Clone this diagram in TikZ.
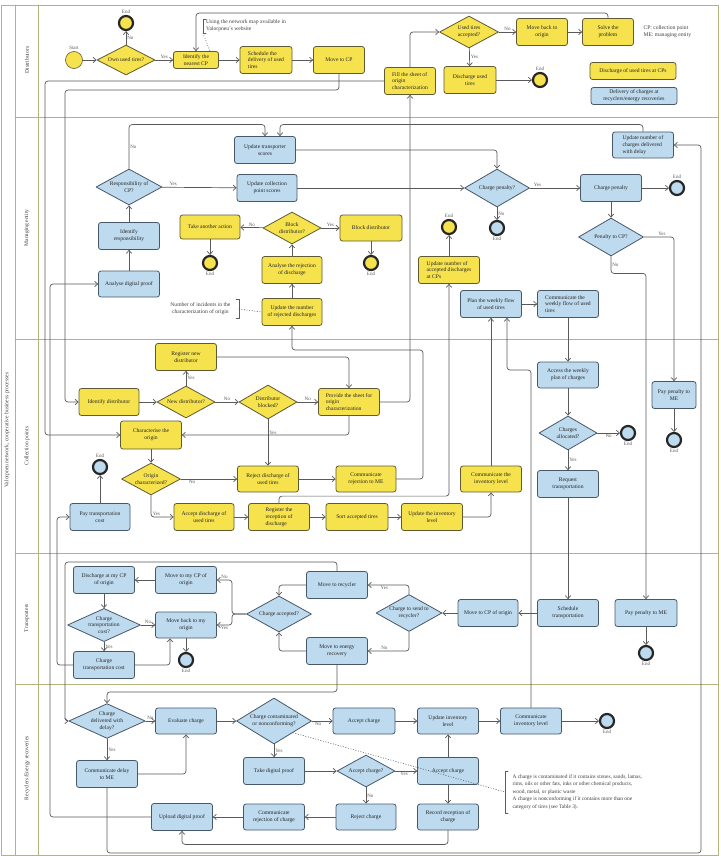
\documentclass[tikz,border=0pt]{standalone}
\usepackage{fontspec}
\setmainfont{Liberation Serif}
\usetikzlibrary{shapes.geometric,arrows.meta}
\definecolor{yfill}{RGB}{246,226,76}
\definecolor{ydraw}{RGB}{95,90,50}
\definecolor{bfill}{RGB}{190,218,238}
\definecolor{bdraw}{RGB}{70,88,105}
\definecolor{flow}{RGB}{90,90,90}
\definecolor{lanec}{RGB}{178,180,125}
\begin{document}
\begin{tikzpicture}[x=1pt,y=-1pt,line join=round,line cap=round,
  font=\fontsize{5.6}{6.8}\selectfont,>={Straight Barb[length=3pt,width=5.5pt]},
  box/.style={rectangle,rounded corners=2.5pt,line width=0.8pt,minimum width=61pt,minimum height=27pt,inner sep=1pt,align=center,text=black!85},
  ybox/.style={box,draw=ydraw,fill=yfill},
  bbox/.style={box,draw=bdraw,fill=bfill},
  dec/.style={diamond,aspect=1.8,line width=0.8pt,inner sep=0.5pt,align=center,text=black!85},
  ydec/.style={dec,draw=ydraw,fill=yfill},
  bdec/.style={dec,draw=bdraw,fill=bfill},
  fin/.style={circle,draw=black!85,line width=2.2pt,minimum size=14pt,inner sep=0pt},
  yfin/.style={fin,fill=yfill},
  bfin/.style={fin,fill=bfill},
  tag/.style={font=\fontsize{5}{6}\selectfont,text=black!65,inner sep=1pt},
  flw/.style={->,draw=flow,line width=0.7pt,rounded corners=3pt},
  dots/.style={dotted,draw=flow,line width=0.6pt},
  brk/.style={draw=flow,line width=0.5pt}]
\fill[white] (0,0) rectangle (720,856);
% lanes
\draw[lanec,line width=0.8pt] (1,5) rectangle (718,855);
\draw[lanec,line width=0.8pt] (15,5) -- (15,855) (38,5) -- (38,855);
\foreach \y in {117,339,553,684} \draw[lanec,line width=0.8pt] (15,\y) -- (718,\y);
\node[rotate=90,text=black!75] (pool) at (7,430) {Valorpneu network, cooperative business processes};
\node[rotate=90,text=black!75] (ldist) at (27,60) {Distributors};
\node[rotate=90,text=black!75] (lme) at (27,228) {Managing entity};
\node[rotate=90,text=black!75] (lcp) at (27,446) {Collection points};
\node[rotate=90,text=black!75] (ltr) at (27,618) {Transporters};
\node[rotate=90,text=black!75] (lrec) at (27,768) {Recyclers/Energy recoveries};

% Distributors
\node[circle,draw=ydraw,fill=yfill,line width=0.6pt,minimum size=17pt,inner sep=0pt,label={[tag]above:Start}] (start) at (74,60) {};
\node[ydec,minimum width=58pt,minimum height=30pt] (ownq) at (126,60) {Own used tires?};
\node[yfin,label={[tag]above:End}] (end1) at (126,23) {};
\node[ybox,minimum width=45pt,minimum height=17pt] (nearcp) at (196,60) {Identify the\\nearest CP};
\node[anchor=west,align=left,inner sep=1pt,text=black!75] (mapnote) at (205,26) {Using the network map available in\\Valorpneu's website};
\node[ybox,minimum width=52pt,align=left] (schedel) at (266,60) {Schedule the\\delivery of used\\tires};
\node[ybox,minimum width=51pt] (movecp) at (339,60) {Move to CP};
\node[ybox,minimum width=51pt,align=left] (fillsheet) at (410,81) {Fill the sheet of\\origin\\characterization};
\node[ydec,minimum width=59pt,minimum height=32pt] (usedq) at (469,32) {Used tires\\accepted?};
\node[ybox,minimum width=51pt] (moveback) at (542,32) {Move back to\\origin};
\node[ybox,minimum width=51pt] (solve) at (608,32) {Solve the\\problem};
\node[anchor=west,align=left,text=black!75] (abbr) at (640,32) {CP: collection point\\ME: managing entity};
\node[ybox,minimum width=52pt] (discharge) at (470,80) {Discharge used\\tires};
\node[yfin,label={[tag]above:End}] (end2) at (540,80) {};
\node[ybox,minimum width=86pt,minimum height=17pt] (legy) at (633,71) {Discharge of used tires at CPs};
\node[bbox,minimum width=86pt,minimum height=17pt] (legb) at (634,96) {Delivery of charges at\\recyclers/energy recoveries};

% Managing entity
\node[bbox] (uptrans) at (265,150) {Update transporter\\scores};
\node[bbox,minimum width=60pt] (upcoll) at (267,188) {Update collection\\point scores};
\node[bdec,minimum width=66pt,minimum height=36pt] (respq) at (129,187) {Responsibility of\\CP?};
\node[bbox] (identresp) at (129,236) {Identify\\responsibility};
\node[bbox,minimum height=26pt] (analyse) at (129,284) {Analyse digital proof};
\node[ybox,minimum width=60pt,minimum height=24pt] (another) at (210,227) {Take another action};
\node[yfin,label={[tag]below:End}] (end3) at (210,263) {};
\node[ydec,minimum width=58pt,minimum height=32pt] (blockq) at (292,228) {Block\\distributor?};
\node[ybox,minimum width=62pt,minimum height=26pt] (blockd) at (371,228) {Block distributor};
\node[yfin,label={[tag]below:End}] (end4) at (371,263) {};
\node[ybox,minimum width=60pt] (analrej) at (292,270) {Analyse the rejection\\of discharge};
\node[ybox,minimum width=60pt] (uprej) at (292,312) {Update the number\\of rejected discharges};
\node[anchor=east,align=center,text=black!75] (incnote) at (234,309) {Number of incidents in the\\characterization of origin};
\node[ybox,align=left] (upacc) at (449,270) {Update number of\\accepted discharges\\at CPs};
\node[yfin,label={[tag]above:End}] (end5) at (449,227) {};
\node[bdec,minimum width=65pt,minimum height=38pt] (penq) at (497,188) {Charge penalty?};
\node[bfin,label={[tag]below:End}] (end6) at (497,228) {};
\node[bbox] (penalty) at (611,188) {Charge penalty};
\node[bfin,label={[tag]above:End}] (end7) at (677,188) {};
\node[bbox,minimum height=26pt,align=left] (updelay) at (643,145) {Update number of\\charges delivered\\with delay};
\node[bdec,minimum width=65pt,minimum height=38pt] (pencpq) at (611,237) {Penalty to CP?};
\node[bbox] (planweek) at (491,304) {Plan the weekly flow\\of used tires};
\node[bbox,align=left] (commweek) at (568,304) {Communicate the\\weekly flow of used\\tires};

% Collection points
\node[ybox] (regnew) at (186,357) {Register new\\distributor};
\node[ybox,minimum width=60pt] (identd) at (109,402) {Identify distributor};
\node[ydec,minimum width=58pt,minimum height=32pt] (newq) at (186,402) {New distributor?};
\node[ydec,minimum width=58pt,minimum height=34pt] (blockedq) at (268,402) {Distributor\\blocked?};
\node[ybox,align=left] (provide) at (349,402) {Provide the sheet for\\origin\\characterization};
\node[ybox,minimum height=28pt] (charorig) at (151,435) {Characterise the\\origin};
\node[ydec,minimum width=59pt,minimum height=32pt] (origq) at (151,479) {Origin\\characterized?};
\node[ybox,minimum width=60pt] (accdis) at (204,517) {Accept discharge of\\used tires};
\node[ybox,align=left] (regrec) at (279,517) {Register the\\reception of\\discharge};
\node[ybox,minimum width=62pt] (sortacc) at (357,517) {Sort accepted tires};
\node[ybox] (upinv) at (432,517) {Update the inventory\\level};
\node[ybox,minimum height=26pt] (rejdis) at (268,479) {Reject discharge of\\used tires};
\node[ybox,minimum width=60pt,minimum height=26pt] (commrej) at (366,479) {Communicate\\rejection to ME};
\node[ybox,minimum height=26pt] (comminv) at (491,479) {Communicate the\\inventory level};
\node[bbox,minimum width=60pt] (paytrans) at (100,517) {Pay transportation\\cost};
\node[bfin,label={[tag]above:End}] (end8) at (100,467) {};
\node[bbox,minimum height=26pt] (access) at (568,375) {Access the weekly\\plan of charges};
\node[bdec,minimum width=58pt,minimum height=34pt] (allocq) at (568,433) {Charges\\allocated?};
\node[bfin,label={[tag]below:End}] (end9) at (628,433) {};
\node[bbox] (reqtrans) at (568,484) {Request\\transportation};
\node[bbox,minimum width=44pt] (payme1) at (674,395) {Pay penalty to\\ME};
\node[bfin,label={[tag]below:End}] (end10) at (674,440) {};

% Transporters
\node[bbox] (schedtr) at (568,613) {Schedule\\transportation};
\node[bbox,minimum width=60pt] (movecpo) at (488,613) {Move to CP of origin};
\node[bdec,minimum width=66pt,minimum height=37pt] (sendq) at (409,613) {Charge to send to\\recycler?};
\node[bbox] (moverec) at (337,585) {Move to recycler};
\node[bbox] (moveen) at (337,651) {Move to energy\\recovery};
\node[bdec,minimum width=65pt,minimum height=36pt] (accq) at (279,614) {Charge accepted?};
\node[bbox] (movemycp) at (186,580) {Move to my CP of\\origin};
\node[bbox,minimum height=26pt] (movebk) at (186,625) {Move back to my\\origin};
\node[bbox] (dischmy) at (104,580) {Discharge at my CP\\of origin};
\node[bdec,aspect=2.2,minimum width=65pt,minimum height=32pt] (costq) at (104,625) {Charge\\transportation\\cost?};
\node[bbox] (chargecost) at (104,665) {Charge\\transportation cost};
\node[bfin,label={[tag]below:End}] (end11) at (186,660) {};
\node[bbox,minimum width=62pt] (payme2) at (646,613) {Pay penalty to ME};
\node[bfin,label={[tag]below:End}] (end12) at (646,653) {};

% Recyclers/energy recoveries
\node[bdec,aspect=2.2,minimum width=58pt,minimum height=32pt] (delayq) at (107,721) {Charge\\delivered with\\delay?};
\node[bbox,minimum height=26pt] (evalc) at (186,721) {Evaluate charge};
\node[bbox] (commdelay) at (107,774) {Communicate delay\\to ME};
\node[bbox] (uploadp) at (182,817) {Upload digital proof};
\node[bdec,minimum width=75pt,minimum height=46pt] (contq) at (274,721) {Charge contaminated\\or nonconforming?};
\node[bbox,minimum width=62pt,minimum height=26pt] (accc1) at (364,721) {Accept charge};
\node[bbox,minimum height=26pt] (upinvl) at (448,721) {Update inventory\\level};
\node[bbox,minimum height=26pt] (comminvl) at (531,721) {Communicate\\inventory level};
\node[bfin,label={[tag]below:End}] (end13) at (607,721) {};
\node[bbox] (takep) at (274,771) {Take digital proof};
\node[bdec,minimum width=58pt,minimum height=32pt] (accq2) at (366,771) {Accept charge?};
\node[bbox] (accc2) at (448,771) {Accept charge};
\node[bbox,minimum width=60pt,minimum height=26pt] (rejc) at (366,817) {Reject charge};
\node[bbox,minimum height=26pt] (commrejc) at (274,817) {Communicate\\rejection of charge};
\node[bbox,minimum height=26pt] (recrec) at (448,817) {Record reception of\\charge};
\node[anchor=west,align=left,font=\fontsize{5.4}{7.6}\selectfont,text=black!75] (contnote) at (509,792) {A charge is contaminated if it contains stones, sands, lamas,\\rims, oils or other fats, inks or other chemical products,\\wood, metal, or plastic waste\\A charge is nonconforming if it contains more than one\\category of tires (see Table 3).};

% annotation brackets
\draw[brk] ([xshift=1pt]mapnote.north west) -- ++(-3,0) |- ([xshift=1pt]mapnote.south west);
\draw[dots] ([xshift=-2pt]mapnote.south west) -- ([xshift=14pt]nearcp.north);
\draw[brk] ([xshift=2pt]incnote.north east) -- ++(3,0) |- ([xshift=2pt]incnote.south east);
\coordinate (incbr) at ([xshift=5pt]incnote.east);
\draw[dots] (incbr) -- (uprej.west);
\draw[brk] ([xshift=-1pt]contnote.north west) -- ++(-3,0) |- ([xshift=-1pt]contnote.south west);
\coordinate (contbr) at ([xshift=-4pt]contnote.west);
\draw[dots] (contq.south east) -- (contbr);

% flows: distributors
\draw[flw] (start) -- (ownq);
\draw[flw] (ownq) -- node[tag,right]{No} (end1);
\draw[flw] (ownq) -- node[tag,above]{Yes} (nearcp);
\draw[flw] (nearcp) -- (schedel);
\draw[flw] (schedel) -- (movecp);
\draw[flw] (movecp.south) |- (65,90) |- (identd.west);
\draw[flw] (fillsheet.west) -- (45,81) |- (charorig.west);
\draw[flw] (fillsheet.north) |- (usedq.west);
\draw[flw] (usedq) -- node[tag,above]{No} (moveback);
\draw[flw] (moveback) -- (solve);
\draw[flw] (solve.north) -- ++(0,-5) -| (nearcp.north);
\draw[flw] (usedq) -- node[tag,right]{Yes} (discharge);
\draw[flw] (discharge) -- (end2);

% flows: managing entity
\draw[flw] (respq.north) -- node[tag,right]{No} ++(0,-44) -| (uptrans.north);
\draw[flw] (updelay.north) -- ++(0,-7) -| ([xshift=15pt]uptrans.north);
\draw[flw] (respq) -- node[tag,above,pos=0.15]{Yes} (upcoll);
\draw[flw] (identresp) -- (respq);
\draw[flw] (analyse) -- (identresp);
\draw[flw] (uploadp.west) -- (50,817) |- (analyse.west);
\draw[flw] (uptrans.east) -| (penq.north);
\draw[flw] (upcoll) -- (penq);
\draw[flw] (penq) -- node[tag,above,pos=0.15]{Yes} (penalty);
\draw[flw] (penq) -- node[tag,right]{No} (end6);
\draw[flw] (penalty) -- (end7);
\draw[flw] (penalty) -- (pencpq);
\draw[flw] (pencpq.east) -| node[tag,above,pos=0.3]{Yes} (payme1.north);
\draw[flw] (pencpq.south) -- node[tag,right]{No} ++(0,17) -| (payme2.north);
\draw[flw] (payme1) -- (end10);
\draw[flw] (payme2) -- (end12);
\draw[flw] (blockq) -- node[tag,above]{No} (another);
\draw[flw] (blockq) -- node[tag,above]{Yes} (blockd);
\draw[flw] (another) -- (end3);
\draw[flw] (blockd) -- (end4);
\draw[flw] (analrej) -- (blockq);
\draw[flw] (uprej) -- (analrej);
\draw[flw] (upacc) -- (end5);
\draw[flw] (planweek) -- (commweek);
\draw[flw] (commweek) -- (access);

% flows: collection points
\draw[flw] (identd) -- (newq);
\draw[flw] (newq) -- node[tag,right]{Yes} (regnew);
\draw[flw] (newq) -- node[tag,above]{No} (blockedq);
\draw[flw] (blockedq) -- node[tag,above]{No} (provide);
\draw[flw] (blockedq) -- node[tag,right,pos=0.3]{Yes} (rejdis);
\draw[flw] (regnew.east) -| (provide.north);
\draw[flw] (provide.east) -| (fillsheet.south);
\draw[flw] (provide.south) |- (charorig.east);
\draw[flw] (charorig) -- (origq);
\draw[flw] (origq) -- node[tag,below,pos=0.2]{No} (rejdis);
\draw[flw] (origq.south) |- node[tag,above,pos=0.62]{Yes} (accdis.west);
\draw[flw] (accdis) -- (regrec);
\draw[flw] (regrec) -- (sortacc);
\draw[flw] (sortacc) -- (upinv);
\draw[flw] (rejdis) -- (commrej);
\draw[flw] (commrej.east) -| (423,350) -| (uprej.south);
\draw[flw] (regrec.north) -- ++(0,-7) -| (upacc.south);
\draw[flw] (upinv.east) -| (comminv.south);
\draw[flw] (comminv) -- (planweek);
\draw[flw] (paytrans) -- (end8);
\draw[flw] (access) -- (allocq);
\draw[flw] (allocq) -- node[tag,below]{No} (end9);
\draw[flw] (allocq) -- node[tag,right]{Yes} (reqtrans);
\draw[flw] (reqtrans) -- (schedtr);

% flows: transporters
\draw[flw] (schedtr) -- (movecpo);
\draw[flw] (movecpo) -- (sendq);
\draw[flw] (sendq.north) |- node[tag,below,pos=0.8]{Yes} (moverec.east);
\draw[flw] (sendq.south) |- node[tag,above,pos=0.8]{No} (moveen.east);
\draw[flw] (moverec.west) -| (accq.north);
\draw[flw] (moveen.west) -| (accq.south);
\draw[flw] (accq.west) -- (232,614) |- node[tag,above,pos=0.75]{No} (movemycp.east);
\draw[flw] (accq.west) -- (232,614) |- node[tag,below,pos=0.75]{Yes} (movebk.east);
\draw[flw] (movemycp) -- (dischmy);
\draw[flw] (dischmy) -- (costq);
\draw[flw] (costq) -- node[tag,above]{No} (movebk);
\draw[flw] (costq) -- node[tag,right]{Yes} (chargecost);
\draw[flw] (chargecost.east) -| ([xshift=-16pt]movebk.south);
\draw[flw] (movebk) -- (end11);
\draw[flw] (chargecost.west) -- (57,665) |- (paytrans.west);
\draw[flw] (moverec.north) |- (65,562) |- (delayq.west);
\draw[flw] (moveen.south) -- ++(0,27) -| (delayq.north);

% flows: recyclers
\draw[flw] (delayq) -- node[tag,above]{No} (evalc);
\draw[flw] (delayq) -- node[tag,right]{Yes} (commdelay);
\draw[flw] (commdelay.east) -| (evalc.south);
\draw[flw] (evalc) -- (contq);
\draw[flw] (contq) -- node[tag,below,pos=0.3]{No} (accc1);
\draw[flw] (contq) -- node[tag,right]{Yes} (takep);
\draw[flw] (takep) -- (accq2);
\draw[flw] (accq2) -- node[tag,below,pos=0.4]{Yes} (accc2);
\draw[flw] (accq2) -- node[tag,right]{No} (rejc);
\draw[flw] (rejc) -- (commrejc);
\draw[flw] (commrejc) -- (uploadp);
\draw[flw] (accc1) -- (upinvl);
\draw[flw] (accc2) -- (upinvl);
\draw[flw] (accc2) -- (recrec);
\draw[flw] (recrec.south) -- ++(0,14) -| (uploadp.south);
\draw[flw] (upinvl) -- (comminvl);
\draw[flw] (comminvl) -- (end13);
\draw[flw] (comminvl.north) -- (531,370) -| ([xshift=16pt]planweek.south);
\draw[flw] (commdelay.south) |- (701,853) |- (updelay.east);
\end{tikzpicture}
\end{document}
